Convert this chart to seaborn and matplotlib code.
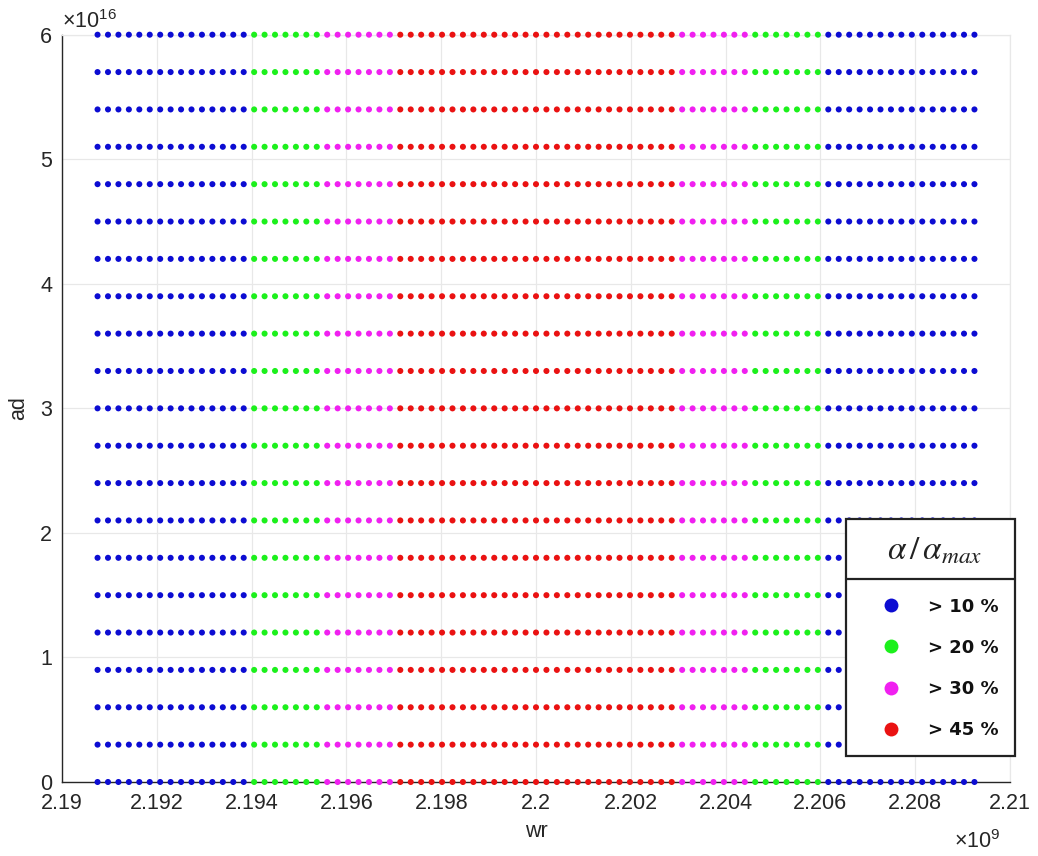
import numpy as np
import pandas as pd
import matplotlib
matplotlib.use("Agg")
import matplotlib.pyplot as plt
import seaborn as sns
from matplotlib.lines import Line2D
from matplotlib.patches import Rectangle
from matplotlib.ticker import FuncFormatter

# ---------------- data ----------------
wr_first = 2.19075e9          # first grid column (Hz)
wr_last = 2.20925e9           # last grid column (Hz)
band_levels = ["> 10 %", "> 20 %", "> 30 %", "> 45 %", "> 30 %", "> 20 %", "> 10 %"]
band_counts = [15, 7, 7, 27, 7, 7, 15]   # number of grid columns per band
ad_rows = [0.0, 0.3, 0.6, 0.9, 1.2, 1.5, 1.8, 2.1, 2.4, 2.7, 3.0,
           3.3, 3.6, 3.9, 4.2, 4.5, 4.8, 5.1, 5.4, 5.7, 6.0]   # x 1e16
legend_levels = ["> 10 %", "> 20 %", "> 30 %", "> 45 %"]
level_colors = ["#0c0cd2", "#1cf01c", "#f020f0", "#ea1212"]
x_tick_vals = [2.19, 2.192, 2.194, 2.196, 2.198, 2.2, 2.202, 2.204, 2.206, 2.208, 2.21]  # x 1e9
y_tick_vals = [0, 1, 2, 3, 4, 5, 6]  # x 1e16

wr_cols = np.linspace(wr_first, wr_last, sum(band_counts))
wr_level = np.repeat(band_levels, band_counts)
rows = []
for a in ad_rows:
    for w, lv in zip(wr_cols, wr_level):
        rows.append((w, a * 1e16, lv))
df = pd.DataFrame(rows, columns=["wr", "ad", "level"])
palette = dict(zip(legend_levels, level_colors))

# ---------------- style ----------------
sns.set_style("white")
plt.rcParams["font.family"] = ["Liberation Sans", "DejaVu Sans"]
plt.rcParams["mathtext.fontset"] = "custom"
plt.rcParams["mathtext.rm"] = "Liberation Sans"
plt.rcParams["mathtext.it"] = "Liberation Sans:italic"

W, H = 1038, 856
fx = lambda px: px / W
fy = lambda py: 1 - py / H

fig = plt.figure(figsize=(W / 100, H / 100), dpi=100)
fig.patch.set_facecolor("white")
ax = fig.add_axes([fx(62), fy(782), (1010 - 62) / W, (782 - 34.7) / H])

sns.scatterplot(data=df, x="wr", y="ad", hue="level", palette=palette,
                hue_order=legend_levels, s=19, linewidth=0, legend=False,
                ax=ax, clip_on=False, zorder=3)

ax.set_xlim(2.19e9, 2.21e9)
ax.set_ylim(0, 6e16)
ax.set_xticks([v * 1e9 for v in x_tick_vals])
ax.set_yticks([v * 1e16 for v in y_tick_vals])
ax.xaxis.set_major_formatter(FuncFormatter(lambda v, p: f"{v / 1e9:g}"))
ax.yaxis.set_major_formatter(FuncFormatter(lambda v, p: f"{v / 1e16:g}"))

grid_c = "#e8e8e8"
ax.grid(True, color=grid_c, linewidth=0.9)
ax.set_axisbelow(True)
for s in ["top", "right"]:
    ax.spines[s].set_color(grid_c)
    ax.spines[s].set_linewidth(0.9)
for s in ["left", "bottom"]:
    ax.spines[s].set_color("#262626")
    ax.spines[s].set_linewidth(1.0)

ax.tick_params(axis="both", direction="in", length=4.5, width=1.0,
               colors="#262626", labelsize=15.5)
ax.tick_params(axis="x", pad=8)
ax.tick_params(axis="y", pad=7)
for t in ax.get_xticklabels() + ax.get_yticklabels():
    t.set_color("#262626")

ax.set_xlabel("wr", fontsize=15.5, color="#262626", labelpad=5)
ax.set_ylabel("ad", fontsize=15.5, color="#262626", labelpad=8)

# exponent labels (MATLAB style)
fig.text(fx(62), fy(28), r"$\times10^{16}$", fontsize=15.5, color="#262626",
         ha="left", va="baseline")
fig.text(fx(1000), fy(848), r"$\times10^{9}$", fontsize=15.5, color="#262626",
         ha="right", va="baseline")

# ---------------- legend box ----------------
box_l, box_r, box_t, box_b, sep_y = 846, 1015, 519, 756, 579
fig.add_artist(Rectangle((fx(box_l), fy(box_b)), (box_r - box_l) / W, (box_b - box_t) / H,
                         transform=fig.transFigure, facecolor="white",
                         edgecolor="#222222", linewidth=1.6, zorder=4))
fig.add_artist(Line2D([fx(box_l), fx(box_r)], [fy(sep_y), fy(sep_y)],
                      transform=fig.transFigure, color="#222222", linewidth=1.6, zorder=5))
fig.text(fx(935), fy(551), r"$\alpha\,/\,\alpha_{max}$", fontsize=24,
         ha="center", va="center", color="#222222", math_fontfamily="stix", zorder=6)

handles = [Line2D([], [], marker="o", linestyle="", markersize=10,
                  markerfacecolor=c, markeredgewidth=0) for c in level_colors]
leg = fig.legend(handles, legend_levels, loc="upper left",
                 bbox_to_anchor=(fx(880), fy(597.5)), bbox_transform=fig.transFigure,
                 frameon=False, handlelength=1.2, handletextpad=1.46,
                 labelspacing=1.29, borderpad=0, borderaxespad=0,
                 prop={"family": "DejaVu Sans", "weight": "bold", "size": 13})
leg.set_zorder(7)
for t in leg.get_texts():
    t.set_color("#111111")

fig.savefig("out.png", dpi=100, facecolor="white")
